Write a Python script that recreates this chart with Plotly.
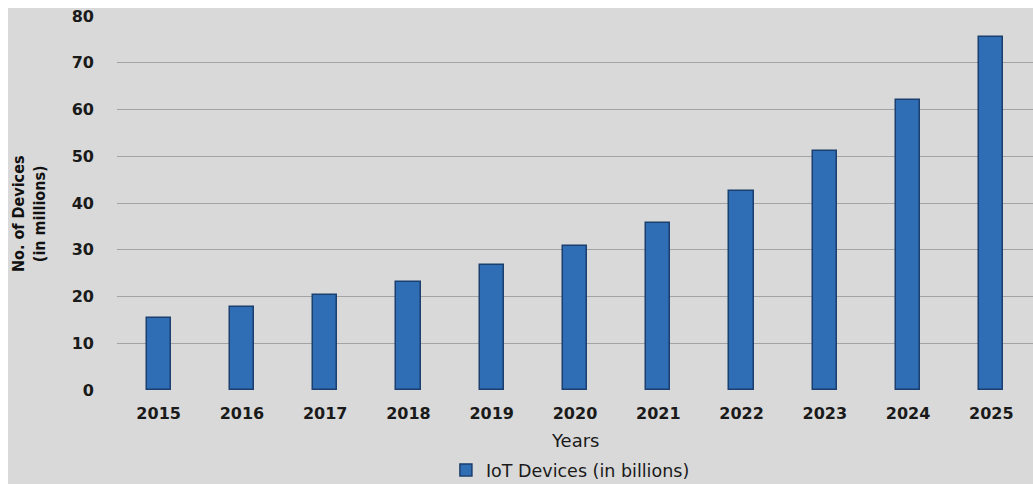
import plotly.graph_objects as go

years = ["2015", "2016", "2017", "2018", "2019", "2020", "2021", "2022", "2023", "2024", "2025"]
devices = [15.41, 17.68, 20.35, 23.14, 26.66, 30.73, 35.82, 42.62, 51.11, 62.12, 75.44]
series_name = "IoT Devices (in billions)"
y_ticks = [0, 10, 20, 30, 40, 50, 60, 70, 80]

W, H = 1033, 484
L, R, T, B = 117, 0, 16, 94
pw, ph = W - L - R, H - T - B

fig = go.Figure()
fig.add_trace(go.Bar(
    x=years, y=devices, name=series_name,
    width=0.29,
    marker=dict(color="#2f6db5", line=dict(color="#1b3f6e", width=1.5)),
    showlegend=True,
))

tick_font = dict(family="DejaVu Sans", size=16, color="#1a1a1a", weight="bold")

fig.update_layout(
    width=W, height=H,
    margin=dict(l=L, r=R, t=T, b=B, pad=0, autoexpand=False),
    paper_bgcolor="#d9d9d9",
    plot_bgcolor="#d9d9d9",
    bargap=0,
    xaxis=dict(
        type="category", range=[-0.5, 10.5], automargin=False,
        showgrid=False, zeroline=False, showline=False, ticks="",
        ticklabelstandoff=12,
        tickfont=tick_font,
    ),
    yaxis=dict(
        range=[0, 80], tickvals=y_ticks, automargin=False,
        showgrid=True, gridcolor="#a3a3a3", gridwidth=1.2,
        zeroline=False, showline=False, ticks="",
        ticklabelstandoff=22,
        tickfont=tick_font,
    ),
    legend=dict(
        orientation="h", x=0.495, xanchor="center", y=(ph - (470 - T)) / ph, yanchor="middle",
        font=dict(family="DejaVu Sans", size=17.5, color="#1a1a1a"),
        bgcolor="rgba(0,0,0,0)", itemwidth=30,
    ),
    shapes=[
        dict(type="rect", xref="paper", yref="paper",
             x0=-0.2, x1=1.1, y0=(ph + (T - 8)) / ph, y1=1.2,
             fillcolor="white", line=dict(width=0), layer="below"),
        dict(type="rect", xref="paper", yref="paper",
             x0=-0.2, x1=-(L - 8) / pw, y0=-0.4, y1=1.2,
             fillcolor="white", line=dict(width=0), layer="below"),
    ],
    annotations=[
        dict(text="Years", xref="paper", yref="paper", x=0.5, y=(ph - (441 - T)) / ph,
             xanchor="center", yanchor="middle", showarrow=False,
             font=dict(family="DejaVu Sans", size=18, color="#1a1a1a")),
        dict(text="No. of Devices<br>(in millions)", xref="paper", yref="paper",
             x=-(L - 29) / pw, y=(ph - (214 - T)) / ph, textangle=-90,
             xanchor="center", yanchor="middle", showarrow=False,
             font=dict(family="DejaVu Sans Condensed, DejaVu Sans", size=16, color="#111111", weight="bold")),
    ],
)

fig.write_html("out.html")
